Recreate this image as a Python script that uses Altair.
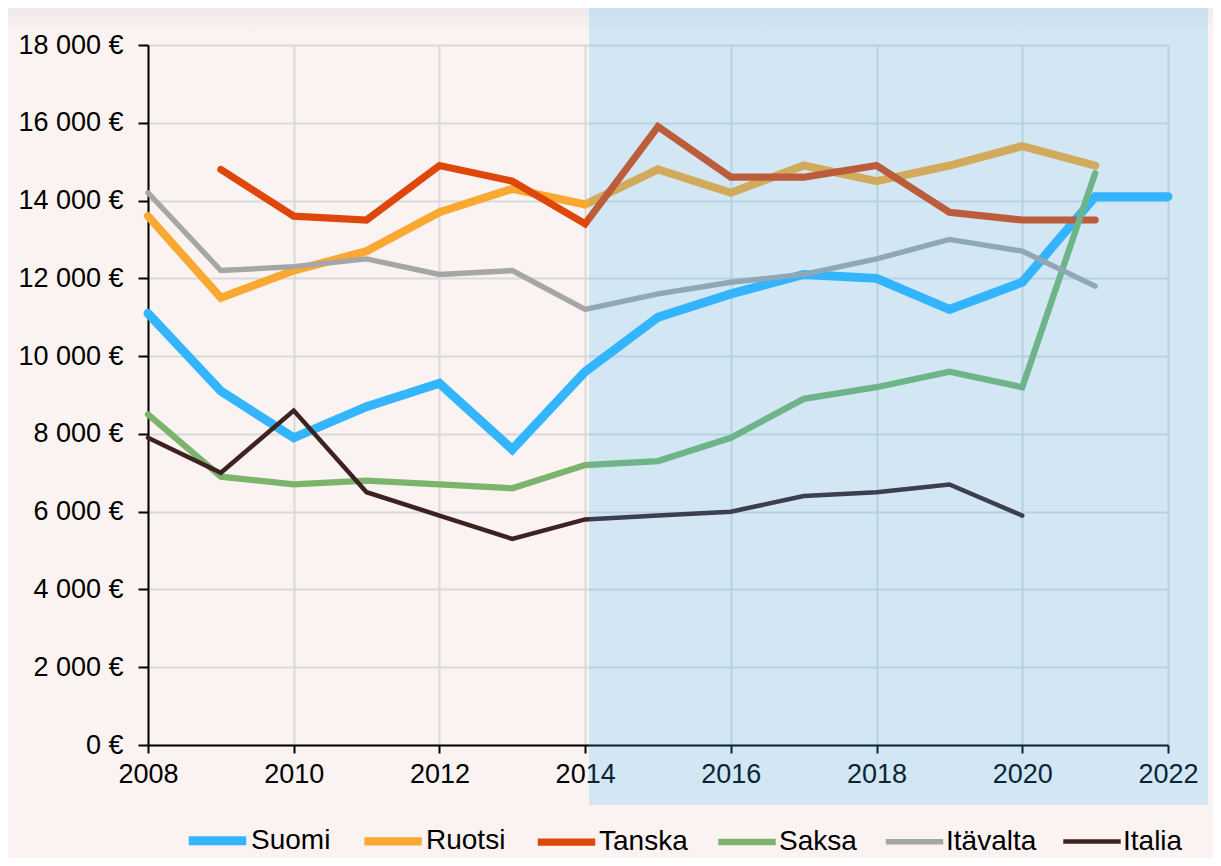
import altair as alt
import pandas as pd

years = list(range(2008, 2023))
series = ["Suomi", "Ruotsi", "Tanska", "Saksa", "Itävalta", "Italia"]
suomi = [11100, 9100, 7900, 8700, 9300, 7600, 9600, 11000, 11600, 12100, 12000, 11200, 11900, 14100, 14100]
ruotsi = [13600, 11500, 12200, 12700, 13700, 14300, 13900, 14800, 14200, 14900, 14500, 14900, 15400, 14900, None]
tanska = [None, 14800, 13600, 13500, 14900, 14500, 13400, 15900, 14600, 14600, 14900, 13700, 13500, 13500, None]
saksa = [8500, 6900, 6700, 6800, 6700, 6600, 7200, 7300, 7900, 8900, 9200, 9600, 9200, 14700, None]
itavalta = [14200, 12200, 12300, 12500, 12100, 12200, 11200, 11600, 11900, 12100, 12500, 13000, 12700, 11800, None]
italia = [7900, 7000, 8600, 6500, 5900, 5300, 5800, 5900, 6000, 6400, 6500, 6700, 5900, None, None]

colors = ["#33B5FF", "#F9A832", "#DE470A", "#7DB46C", "#A6A6A6", "#3E2222"]
widths = [9, 4.5, 4.5, 4.5, 4.5, 4.5]

rows = []
for name, vals in zip(series, [suomi, ruotsi, tanska, saksa, itavalta, italia]):
    for y, v in zip(years, vals):
        if v is not None:
            rows.append({"Vuosi": y, "Arvo": v, "Maa": name, "ord": series.index(name)})
df = pd.DataFrame(rows)

FONT = "Liberation Sans"
FS = 27

x = alt.X("Vuosi:Q", scale=alt.Scale(domain=[2008, 2022], nice=False, zero=False),
          axis=alt.Axis(values=list(range(2008, 2023, 2)), format="d", title=None,
                        labelFontSize=FS, labelFont=FONT, labelColor="#000000", labelFlush=False,
                        domainColor="#000000", domainWidth=2, tickColor="#000000",
                        tickWidth=2, tickSize=8, labelPadding=8,
                        gridColor="#D9D9D9", gridWidth=2))
y = alt.Y("Arvo:Q", scale=alt.Scale(domain=[0, 18000], nice=False),
          axis=alt.Axis(values=list(range(0, 18001, 2000)),
                        labelExpr="replace(format(datum.value, ',d'), ',', ' ') + ' €'",
                        title=None, labelFontSize=FS, labelFont=FONT, labelColor="#000000", labelFlush=False,
                        domainColor="#000000", domainWidth=2, tickColor="#000000",
                        tickWidth=2, tickSize=10, labelPadding=15,
                        gridColor="#D9D9D9", gridWidth=2))

top_grad = alt.Chart(pd.DataFrame({"a": [0]})).mark_rect(
    color=alt.LinearGradient(gradient="linear", x1=0, x2=0, y1=0, y2=1,
                             stops=[alt.GradientStop(color="#EAE6EA", offset=0),
                                    alt.GradientStop(color="#FBF3F1", offset=1)])
).encode(x=alt.value(-150), x2=alt.value(1080), y=alt.value(-45), y2=alt.value(-12))

leg = dict(title=None, orient="none", direction="horizontal",
           legendX=36, legendY=762, labelFontSize=28, labelFont=FONT,
           labelColor="#000000", symbolType="stroke", symbolSize=3300,
           columnPadding=17, labelOffset=0, labelLimit=300)

lines = alt.Chart(df).mark_line(strokeCap="round", strokeJoin="miter").encode(
    x=x, y=y,
    color=alt.Color("Maa:N", scale=alt.Scale(domain=series, range=colors), legend=alt.Legend(**leg)),
    strokeWidth=alt.StrokeWidth("Maa:N", scale=alt.Scale(domain=series, range=widths), legend=alt.Legend(**leg)),
    order=alt.Order("ord:Q"),
)

overlay = alt.Chart(pd.DataFrame({"a": [0]})).mark_rect(color="#33B2FF", opacity=0.2).encode(
    x=alt.value(441), x2=alt.value(1060), y=alt.value(-38), y2=alt.value(760))

chart = alt.layer(top_grad, lines, overlay).properties(
    width=1020, height=700,
    padding={"left": 140, "top": 37, "right": 45, "bottom": 113},
    autosize=alt.AutoSizeParams(type="none"),
    background="#FBF3F1",
).configure_view(stroke=None)

chart.save("out.html", embed_options={"renderer": "svg", "actions": False})
